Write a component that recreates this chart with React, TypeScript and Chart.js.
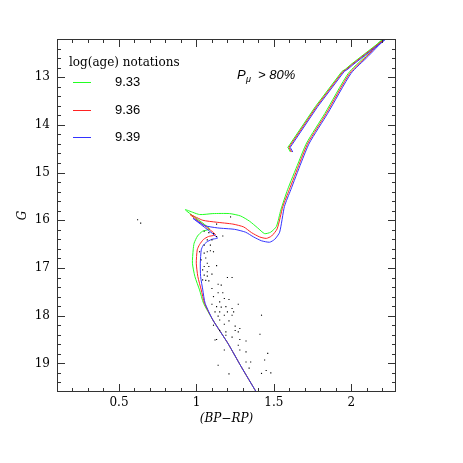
import React, { useEffect, useRef } from 'react';
import { Chart, registerables } from 'chart.js';

Chart.register(...registerables);

const SERIF = '"DejaVu Serif", "Liberation Serif", serif';
const SANS = '"Liberation Sans", Arial, sans-serif';

// Axis ranges and tick values
const X_MIN = 0.1;
const X_MAX = 2.288;
const Y_MIN = 12.2;
const Y_MAX = 19.6;
const xTickValues = [0.5, 1, 1.5, 2];
const yTickValues = [13, 14, 15, 16, 17, 18, 19];

// Legend entries
const ageLabels = ['9.33', '9.36', '9.39'];
const ageColors = ['#22ff22', '#ff2222', '#3333ff'];

// Member stars (BP-RP, G)
const stars: [number, number][] = [
  [0.62, 15.99], [0.64, 16.06], [1.22, 15.93], [1.13, 16.08], [1.05, 16.23], [1.08, 16.26], [1.11, 16.28],
  [1.17, 16.33], [1.13, 16.34], [1.07, 16.41], [1.10, 16.41], [1.05, 16.52], [1.09, 16.52], [1.07, 16.66],
  [1.11, 16.66], [1.02, 16.66], [1.05, 16.69], [1.09, 16.64], [1.03, 16.83], [1.06, 16.79], [1.07, 16.90],
  [1.13, 16.95], [1.05, 16.97], [1.08, 16.97], [1.04, 17.04], [1.07, 17.08], [1.05, 17.15], [1.07, 17.17],
  [1.10, 17.13], [1.20, 17.20], [1.23, 17.20], [1.04, 17.25], [1.06, 17.26], [1.08, 17.27], [1.14, 17.34],
  [1.16, 17.36], [1.10, 17.43], [1.17, 17.52], [1.14, 17.52], [1.11, 17.60], [1.18, 17.64], [1.21, 17.66],
  [1.15, 17.71], [1.10, 17.76], [1.27, 17.76], [1.13, 17.81], [1.16, 17.82], [1.19, 17.81], [1.23, 17.85],
  [1.12, 17.92], [1.15, 17.92], [1.20, 17.92], [1.24, 17.92], [1.14, 18.01], [1.18, 17.99], [1.23, 17.99],
  [1.42, 17.99], [1.15, 18.09], [1.21, 18.11], [1.11, 18.20], [1.18, 18.18], [1.25, 18.22], [1.28, 18.27],
  [1.15, 18.31], [1.19, 18.34], [1.25, 18.31], [1.27, 18.34], [1.41, 18.39], [1.13, 18.50], [1.19, 18.41],
  [1.23, 18.45], [1.28, 18.50], [1.32, 18.53], [1.12, 18.51], [1.18, 18.72], [1.27, 18.62], [1.28, 18.72],
  [1.32, 18.76], [1.46, 18.79], [1.32, 18.97], [1.35, 18.97], [1.44, 18.93], [1.14, 19.04], [1.34, 19.10],
  [1.45, 19.15], [1.48, 19.20], [1.21, 19.22], [1.42, 19.21],
];

// Isochrones: MS -> turnoff hook -> SGB -> RGB
const iso933Main: [number, number][] = [
  [1.42, 19.78], [1.386, 19.60], [1.289, 19.07], [1.203, 18.58], [1.106, 18.09], [1.046, 17.74], [1.020, 17.46],
  [0.990, 17.18], [0.974, 16.90], [0.979, 16.62], [0.985, 16.48], [1.007, 16.33], [1.039, 16.23], [1.085, 16.18],
  [0.928, 15.78], [1.020, 15.88], [1.106, 15.86], [1.214, 15.86], [1.285, 15.91], [1.343, 16.02], [1.395, 16.16],
  [1.440, 16.28], [1.479, 16.25], [1.516, 16.13], [1.545, 15.78], [1.588, 15.36], [1.657, 14.80], [1.711, 14.38],
  [1.829, 13.76], [1.980, 12.92], [2.088, 12.57], [2.195, 12.22], [2.302, 11.96],
];
const iso936Main: [number, number][] = [
  [1.42, 19.78], [1.386, 19.60], [1.289, 19.07], [1.203, 18.58], [1.106, 18.09], [1.052, 17.74], [1.031, 17.46],
  [1.009, 17.18], [0.999, 16.90], [1.005, 16.62], [1.020, 16.51], [1.046, 16.40], [1.078, 16.34], [1.123, 16.30],
  [0.959, 15.88], [1.041, 16.00], [1.128, 16.04], [1.235, 16.08], [1.305, 16.14], [1.356, 16.26], [1.408, 16.35],
  [1.451, 16.38], [1.485, 16.33], [1.521, 16.18], [1.558, 15.71], [1.599, 15.36], [1.666, 14.80], [1.720, 14.38],
  [1.838, 13.76], [1.989, 12.92], [2.097, 12.57], [2.204, 12.22], [2.311, 11.96],
];
const iso939Main: [number, number][] = [
  [1.42, 19.78], [1.386, 19.60], [1.289, 19.07], [1.203, 18.58], [1.106, 18.09], [1.056, 17.74], [1.041, 17.46],
  [1.027, 17.18], [1.025, 16.90], [1.031, 16.62], [1.043, 16.53], [1.065, 16.46], [1.098, 16.40], [1.136, 16.37],
  [0.978, 15.96], [1.052, 16.11], [1.136, 16.16], [1.246, 16.19], [1.317, 16.25], [1.369, 16.35], [1.420, 16.43],
  [1.472, 16.46], [1.505, 16.40], [1.537, 16.25], [1.568, 15.71], [1.609, 15.36], [1.675, 14.80], [1.729, 14.38],
  [1.847, 13.76], [1.998, 12.92], [2.106, 12.57], [2.213, 12.22], [2.320, 11.96],
];

// Isochrones: He burning / AGB
const iso933Agb: [number, number][] = [
  [1.607, 14.57], [1.590, 14.47], [1.601, 14.42], [1.767, 13.62], [1.939, 12.88], [1.963, 12.83], [1.995, 12.74],
  [2.201, 12.22], [2.305, 11.96],
];
const iso936Agb: [number, number][] = [
  [1.614, 14.57], [1.597, 14.47], [1.608, 14.42], [1.774, 13.62], [1.946, 12.88], [1.970, 12.83], [2.002, 12.74],
  [2.208, 12.22], [2.312, 11.96],
];
const iso939Agb: [number, number][] = [
  [1.622, 14.57], [1.605, 14.47], [1.616, 14.42], [1.782, 13.62], [1.954, 12.88], [1.978, 12.83], [2.010, 12.74],
  [2.216, 12.22], [2.320, 11.96],
];

const toPts = (a: [number, number][]) => a.map(([x, y]) => ({ x, y }));

const lineDs = (data: [number, number][], color: string, tension: number) => ({
  data: toPts(data),
  showLine: true,
  borderColor: color,
  backgroundColor: color,
  borderWidth: 1,
  pointRadius: 0,
  tension,
});

const framePlugin = {
  id: 'frameTicks',
  afterDraw(chart: any) {
    const { ctx, chartArea, scales } = chart;
    const { left, right, top, bottom } = chartArea;
    const xs = scales.x;
    const ys = scales.y;
    ctx.save();
    ctx.strokeStyle = '#333';
    ctx.lineWidth = 1;
    ctx.strokeRect(left + 0.5, top + 0.5, right - left - 1, bottom - top - 1);
    ctx.beginPath();
    // x ticks (minor every 0.1, major at labels)
    for (let i = 1; i <= 22; i++) {
      const v = i / 10;
      if (v <= X_MIN || v >= X_MAX) continue;
      const isMajor = Math.abs(v * 2 - Math.round(v * 2)) < 1e-6;
      const len = isMajor ? 8 : 4;
      const px = Math.round(xs.getPixelForValue(v)) + 0.5;
      ctx.moveTo(px, bottom);
      ctx.lineTo(px, bottom - len);
      ctx.moveTo(px, top);
      ctx.lineTo(px, top + len);
    }
    // y ticks (minor every 0.2)
    for (let i = 62; i <= 98; i++) {
      const v = i / 5;
      if (v <= Y_MIN || v >= Y_MAX) continue;
      const isMajor = Math.abs(v - Math.round(v)) < 1e-6;
      const len = isMajor ? 8 : 4;
      const py = Math.round(ys.getPixelForValue(v)) + 0.5;
      ctx.moveTo(left, py);
      ctx.lineTo(left + len, py);
      ctx.moveTo(right, py);
      ctx.lineTo(right - len, py);
    }
    ctx.stroke();

    // legend
    ctx.fillStyle = '#000';
    ctx.textAlign = 'left';
    ctx.textBaseline = 'middle';
    ctx.font = `12px ${SERIF}`;
    ctx.fillText('log(age) notations', left + 12, top + 24);
    const rowY = [82.5, 110.5, 137.5];
    ageLabels.forEach((lab, i) => {
      ctx.strokeStyle = ageColors[i];
      ctx.beginPath();
      ctx.moveTo(left + 16, rowY[i]);
      ctx.lineTo(left + 34, rowY[i]);
      ctx.stroke();
      ctx.fillStyle = '#000';
      ctx.font = `13px ${SANS}`;
      ctx.fillText(lab, left + 58, rowY[i]);
    });

    // annotation
    ctx.fillStyle = '#000';
    ctx.font = `italic 13px ${SANS}`;
    ctx.fillText('P', 237, 75);
    ctx.font = `italic 9px ${SANS}`;
    ctx.fillText('\u03bc', 246, 79);
    ctx.font = `italic 13px ${SANS}`;
    ctx.fillText('> 80%', 258, 75);
    ctx.restore();
  },
};

export default function App() {
  const ref = useRef<HTMLCanvasElement>(null);
  useEffect(() => {
    if (!ref.current) return;
    const chart = new Chart(ref.current, {
      type: 'scatter',
      data: {
        datasets: [
          {
            data: toPts(stars),
            pointStyle: 'rect',
            pointRadius: 0.8,
            borderWidth: 0,
            backgroundColor: '#000',
            showLine: false,
          } as any,
          lineDs(iso939Main, ageColors[2], 0.2),
          lineDs(iso939Agb, ageColors[2], 0),
          lineDs(iso936Main, ageColors[1], 0.2),
          lineDs(iso936Agb, ageColors[1], 0),
          lineDs(iso933Main, ageColors[0], 0.2),
          lineDs(iso933Agb, ageColors[0], 0),
        ],
      },
      options: {
        animation: false,
        responsive: false,
        layout: { padding: { left: 0, top: 39, right: 67, bottom: 0 } },
        plugins: { legend: { display: false }, tooltip: { enabled: false } },
        scales: {
          x: {
            type: 'linear',
            min: X_MIN,
            max: X_MAX,
            afterBuildTicks: (s: any) => {
              s.ticks = xTickValues.map((v) => ({ value: v }));
            },
            afterFit: (s: any) => {
              s.height = 71;
            },
            grid: { display: false, drawTicks: false, tickLength: 0 },
            border: { display: false },
            ticks: {
              padding: 4,
              color: '#000',
              maxRotation: 0,
              autoSkip: false,
              font: { family: SERIF, size: 12 },
              callback: (v: any) => String(v),
            },
            title: {
              display: true,
              text: '(BP\u2212RP)',
              color: '#000',
              font: { family: SERIF, size: 12, style: 'italic' },
              padding: { top: 0, bottom: 37 },
            },
          },
          y: {
            type: 'linear',
            reverse: true,
            min: Y_MIN,
            max: Y_MAX,
            afterBuildTicks: (s: any) => {
              s.ticks = yTickValues.map((v) => ({ value: v }));
            },
            afterFit: (s: any) => {
              s.width = 57;
            },
            grid: { display: false, drawTicks: false, tickLength: 0 },
            border: { display: false },
            ticks: {
              padding: 7,
              color: '#000',
              autoSkip: false,
              font: { family: SERIF, size: 12 },
              callback: (v: any) => String(v),
            },
            title: {
              display: true,
              text: 'G',
              color: '#000',
              font: { family: SERIF, size: 12, style: 'italic' },
              padding: { top: 16, bottom: 0 },
            },
          },
        },
      } as any,
      plugins: [framePlugin],
    });
    return () => chart.destroy();
  }, []);

  return (
    <div style={{ position: 'absolute', left: 0, top: 0, width: 463, height: 463, background: '#fff' }}>
      <canvas ref={ref} width={463} height={463} style={{ display: 'block' }} />
    </div>
  );
}
